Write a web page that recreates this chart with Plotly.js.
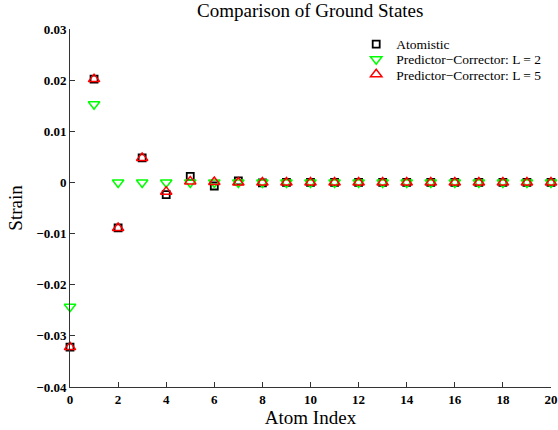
<!DOCTYPE html>
<html><head><meta charset="utf-8">
<script src="https://cdn.plot.ly/plotly-3.0.1.min.js"></script>
<style>html,body{margin:0;padding:0;background:#fff}#c{width:558px;height:430px}</style>
</head><body><div id="c"></div>
<script>
const atomIndex = [0,1,2,3,4,5,6,7,8,9,10,11,12,13,14,15,16,17,18,19,20];
const atomistic = [-0.0322,0.0202,-0.0089,0.0048,-0.0024,0.0012,-0.0007,0.0003,-0.0001,0,0,0,0,0,0,0,0,0,0,0,0];
const pcL2 = [-0.0243,0.0153,0,0,0,0,0,0,0,0,0,0,0,0,0,0,0,0,0,0,0];
const pcL5 = [-0.0322,0.0202,-0.0089,0.0048,-0.0018,0.0002,0.0001,0,0,0,0,0,0,0,0,0,0,0,0,0,0];
const yTickVals = [-0.04,-0.03,-0.02,-0.01,0,0.01,0.02,0.03];
const yTickText = ['\u22120.04','\u22120.03','\u22120.02','\u22120.01','0','0.01','0.02','0.03'];
const xTickVals = [0,2,4,6,8,10,12,14,16,18,20];
const seriesNames = ['Atomistic', 'Predictor\u2212Corrector: L = 2', 'Predictor\u2212Corrector: L = 5'];

const serif = 'Liberation Serif, Times New Roman, serif';
const traces = [
  {x: atomIndex, y: atomistic, name: seriesNames[0], legend: 'legend', mode: 'markers', type: 'scatter',
   marker: {symbol: 'square-open', size: 7, color: '#000', line: {width: 1.8, color: '#000'}}, cliponaxis: false},
  {x: atomIndex, y: pcL2, name: seriesNames[1], legend: 'legend2', mode: 'markers', type: 'scatter',
   marker: {symbol: 'triangle-down-open', size: 10, color: '#00ff00', line: {width: 1.5, color: '#00ff00'}}, cliponaxis: false},
  {x: atomIndex, y: pcL5, name: seriesNames[2], legend: 'legend3', mode: 'markers', type: 'scatter',
   marker: {symbol: 'triangle-up-open', size: 10, color: '#ff0000', line: {width: 1.5, color: '#ff0000'}}, cliponaxis: false}
];
function leg(y) {
  return {x: 0.595, y: y, xanchor: 'left', yanchor: 'middle', bgcolor: 'rgba(0,0,0,0)',
    font: {family: serif, size: 13.5, color: '#000'}, itemwidth: 30, borderwidth: 0};
}
const layout = {
  width: 558, height: 430,
  margin: {l: 70, r: 7, t: 29, b: 43},
  paper_bgcolor: '#fff', plot_bgcolor: '#fff',
  title: {text: 'Comparison of Ground States', font: {family: serif, size: 19, color: '#000'}, x: 0.556, xanchor: 'center', y: 0.977, yanchor: 'middle'},
  showlegend: true,
  legend: leg(0.957), legend2: leg(0.915), legend3: leg(0.873),
  xaxis: {range: [0, 20], tickvals: xTickVals, ticks: 'inside', ticklen: 5, tickcolor: '#333', showline: true, linecolor: '#333', linewidth: 1,
    showgrid: false, zeroline: false, tickfont: {family: serif, size: 13, color: '#000', weight: 'bold'},
    title: {text: 'Atom Index', font: {family: serif, size: 19, color: '#000'}, standoff: 2}},
  yaxis: {range: [-0.04, 0.03], tickvals: yTickVals, ticktext: yTickText, ticks: 'inside', ticklen: 5, tickcolor: '#333', showline: true, linecolor: '#333', linewidth: 1,
    showgrid: false, zeroline: false, tickfont: {family: serif, size: 13, color: '#000', weight: 'bold'},
    title: {text: 'Strain', font: {family: serif, size: 19, color: '#000'}, standoff: 8}}
};
Plotly.newPlot('c', traces, layout, {displayModeBar: false});
</script></body></html>
